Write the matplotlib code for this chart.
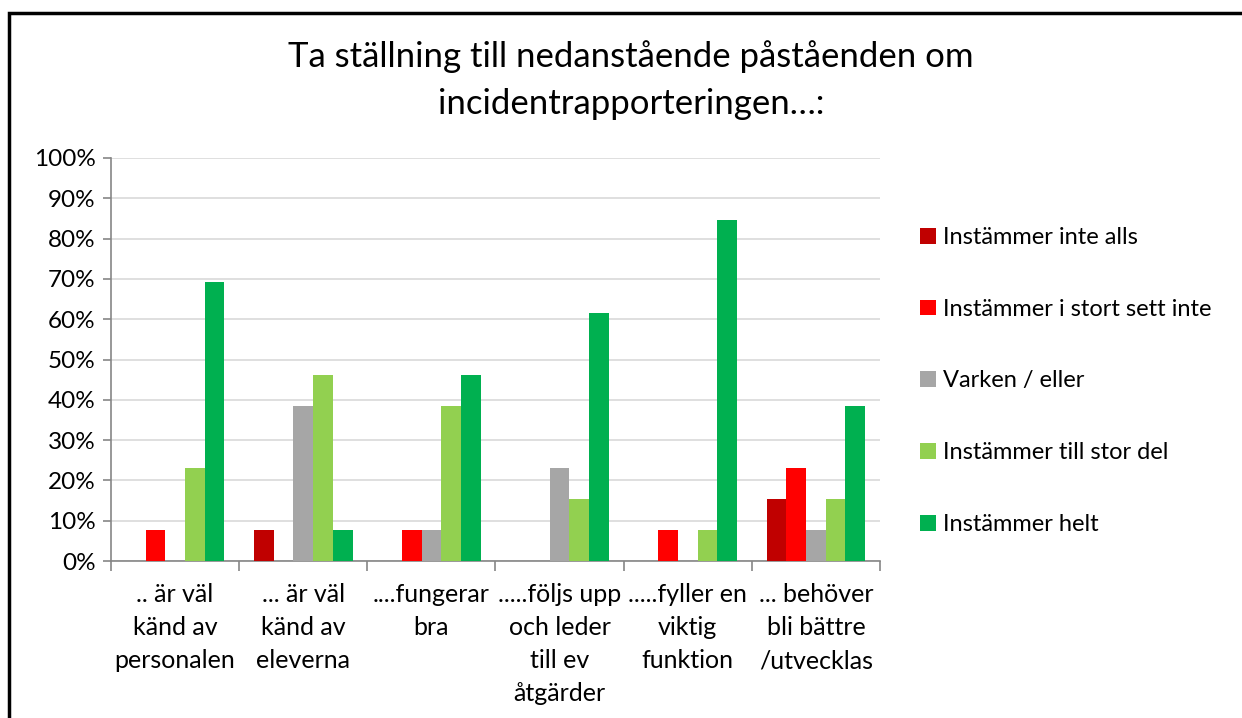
import numpy as np
import matplotlib.pyplot as plt
from matplotlib.patches import Rectangle
from matplotlib.ticker import FixedLocator, PercentFormatter

plt.rcParams['font.family'] = ['Lato', 'DejaVu Sans']

categories = [".. är väl\nkänd av\npersonalen",
              "... är väl\nkänd av\neleverna",
              "....fungerar\nbra",
              ".....följs upp\noch leder\ntill ev\nåtgärder",
              ".....fyller en\nviktig\nfunktion",
              "... behöver\nbli bättre\n/utvecklas"]

series = ["Instämmer inte alls", "Instämmer i stort sett inte", "Varken / eller",
          "Instämmer till stor del", "Instämmer helt"]

inte_alls = [0, 7.69, 0, 0, 0, 15.38]
stort_sett_inte = [7.69, 0, 7.69, 0, 7.69, 23.08]
varken = [0, 38.46, 7.69, 23.08, 0, 7.69]
stor_del = [23.08, 46.15, 38.46, 15.38, 7.69, 15.38]
helt = [69.23, 7.69, 46.15, 61.54, 84.62, 38.46]

colors = ['#C00000', '#FF0000', '#A6A6A6', '#92D050', '#00B050']
values = [inte_alls, stort_sett_inte, varken, stor_del, helt]

fig = plt.figure(figsize=(12.42, 7.18), dpi=100)
ax = fig.add_axes([111/1242, 1 - 561/718, (880-111)/1242, (561-158)/718])

x = np.arange(len(categories))
w = 1 / 6.5
for i, (vals, col, name) in enumerate(zip(values, colors, series)):
    ax.bar(x + (i - 2) * w, vals, width=w, color=col, label=name, zorder=3)

ax.set_xlim(-0.5, len(categories) - 0.5)
ax.set_ylim(0, 100)
ax.set_yticks(np.arange(0, 101, 10))
ax.yaxis.set_major_formatter(PercentFormatter(decimals=0))
ax.grid(axis='y', color='#d9d9d9', lw=1.2, zorder=0)

ax.set_xticks(x)
ax.set_xticklabels(categories, fontsize=18, linespacing=1.53)
ax.xaxis.set_minor_locator(FixedLocator(np.arange(-0.5, len(categories), 1)))
ax.tick_params(axis='x', which='major', length=0, pad=16)
ax.tick_params(axis='x', which='minor', length=7, color='#868686', width=1.2)
ax.tick_params(axis='y', length=6, color='#868686', width=1.2, labelsize=17.5, pad=5)

for s in ['top', 'right']:
    ax.spines[s].set_visible(False)
for s in ['left', 'bottom']:
    ax.spines[s].set_color('#868686')
    ax.spines[s].set_linewidth(1.2)

fig.text(631/1242, 1 - 80/718, "Ta ställning till nedanstående påståenden om\nincidentrapporteringen…:",
         ha='center', va='center', fontsize=25, linespacing=1.58)

fig.legend(loc='center left', bbox_to_anchor=(899/1242, 1 - 381/718), frameon=False,
           fontsize=17, handlelength=0.65, handleheight=0.65, handletextpad=0.3,
           labelspacing=2.15)

fig.patches.append(Rectangle((9/1242, -0.1), 1.1, 1 - 13/718 + 0.1, transform=fig.transFigure,
                             fill=False, edgecolor='black', lw=2.5))

fig.savefig('out.png', dpi=100)
